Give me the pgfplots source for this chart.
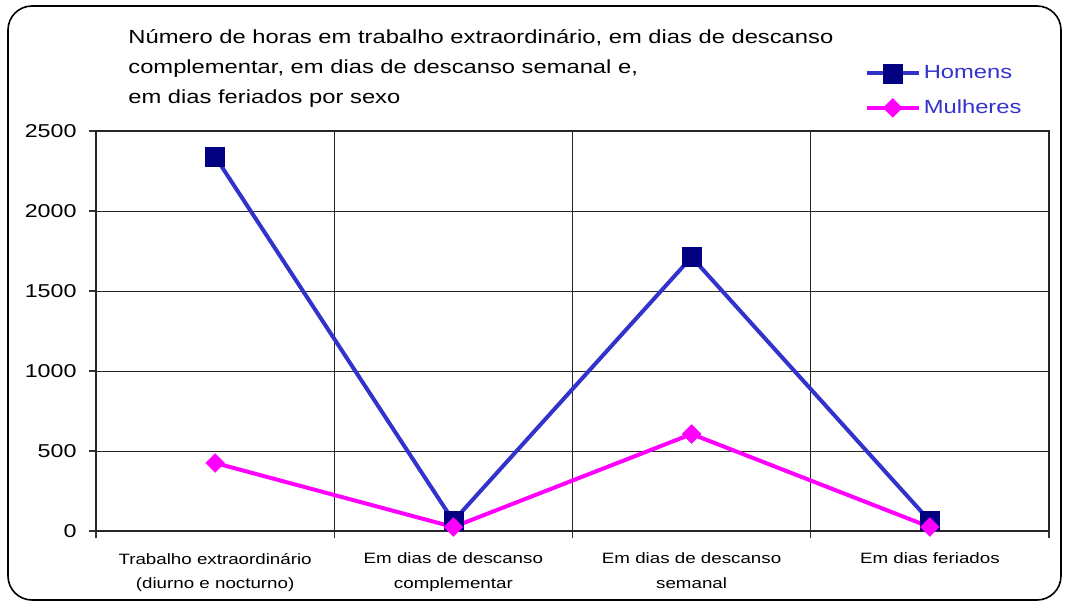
\documentclass[border=0pt]{standalone}
\usepackage{fontspec}
\setmainfont{Liberation Sans}[FakeStretch=1.25]
\usepackage{pgfplots}
\pgfplotsset{compat=1.18}
\definecolor{homline}{HTML}{3333CC}
\definecolor{homfill}{HTML}{000080}
\definecolor{mulcol}{HTML}{FF00FF}

\begin{document}
\begin{tikzpicture}[x=0.5pt,y=0.5pt]
\useasboundingbox (0,0) rectangle (1066,606);
\draw[line width=0.8pt, rounded corners=12pt] (8,6) rectangle (1061,600);
\node[anchor=north west, align=left, inner sep=0pt,
      font=\fontsize{9.5pt}{15pt}\selectfont] at (128,577)
  {Número de horas em trabalho extraordinário, em dias de descanso\\
   complementar, em dias de descanso semanal e,\\
   em dias feriados por sexo};
\begin{axis}[
    at={(48pt,37.5pt)}, anchor=south west,
    scale only axis, width=476.5pt, height=200pt,
    xmin=-0.5, xmax=3.5, ymin=0, ymax=2500,
    ytick={0,500,...,2500},
    xtick={0,1,2,3},
    xticklabels={{Trabalho extraordinário\\(diurno e nocturno)},
                 {Em dias de descanso\\complementar},
                 {Em dias de descanso\\semanal},
                 {Em dias feriados}},
    minor xtick={-0.5,0.5,1.5,2.5,3.5},
    major x tick style={draw=none},
    xminorgrids=true, ymajorgrids=true,
    grid style={black!85, line width=0.5pt},
    minor grid style={black!85, line width=0.5pt},
    tick align=outside, tick pos=left,
    major tick length=3.5pt, minor tick length=3.5pt,
    tick style={black!80, line width=0.6pt},
    axis line style={black!85, line width=0.9pt},
    /pgf/number format/assume math mode=true,
    /pgf/number format/1000 sep={},
    yticklabel style={font=\fontsize{9.3pt}{11pt}\selectfont, xshift=-2.7pt},
    xticklabel style={font=\fontsize{7.5pt}{12.3pt}\selectfont, align=center, yshift=-4pt},
    legend style={at={(0.80,1.185)}, anchor=north west, draw=none, fill=none,
                  font=\fontsize{9.5pt}{11pt}\selectfont, text=homline,
                  row sep=5pt, legend cell align=left,
                  nodes={inner xsep=1.5pt}},
    legend image code/.code={\draw[mark indices={2},#1] plot coordinates {(0pt,0pt) (13pt,0pt) (26pt,0pt)};},
]
\addplot[homline, line width=2pt, mark=square*, mark size=4.75pt,
         mark options={fill=homfill, draw=homfill, line width=0.3pt}]
  coordinates {(0,2340) (1,62) (2,1712) (3,62)};
\addlegendentry{Homens}
\addplot[mulcol, line width=2pt, mark=square*, mark size=3.3pt,
         mark options={fill=mulcol, draw=mulcol, line width=0.3pt, rotate=45}]
  coordinates {(0,425) (1,25) (2,606) (3,25)};
\addlegendentry{Mulheres}
\end{axis}
\end{tikzpicture}
\end{document}
